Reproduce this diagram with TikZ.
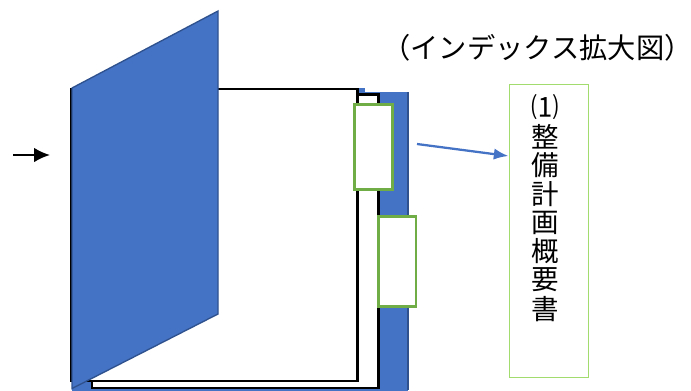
\documentclass[tikz,border=0pt]{standalone}
\usepackage{fontspec}
\newfontfamily\jpfont{Noto Sans CJK JP}
\definecolor{coverblue}{HTML}{4472C4}
\definecolor{coveredge}{HTML}{2F528F}
\definecolor{tabgreen}{HTML}{70AD47}
\definecolor{labelgreen}{HTML}{A2DC6E}
\usetikzlibrary{arrows.meta}
\tikzset{
  px/.style={x=0.75pt,y=-0.75pt},
  sheet/.style={draw=black,fill=white,line width=1.8pt,line join=miter},
  backing/.style={fill=coverblue,draw=none},
  cover/.style={fill=coverblue,draw=coveredge,line width=1pt,line join=miter},
  tabbox/.style={draw=tabgreen,fill=white,line width=2.2pt,inner sep=0pt,anchor=north west},
  labelbox/.style={draw=labelgreen,fill=white,line width=1.1pt,inner sep=0pt,anchor=north west},
  vchar/.style={font=\jpfont\fontsize{20.6pt}{21pt}\selectfont,inner sep=0pt,text=black},
  title/.style={font=\jpfont\fontsize{21.2pt}{23pt}\selectfont,inner sep=0pt,text=black},
  blueline/.style={draw=coverblue,line width=1.7pt,-{Latex[length=11pt,width=8.5pt]}},
  blackline/.style={draw=black,line width=1.6pt,-{Latex[length=12pt,width=11pt]}}
}
\begin{document}
\begin{tikzpicture}[px]
\useasboundingbox (0,0) rectangle (691,390);
% blue backing board
\path[backing] (72,92) rectangle (408,392);
\draw[coveredge,line width=1pt] (408,92) -- (408,390);
\path[backing] (358,88) rectangle (365,93);
% sheets
\path[sheet] (92,94.5) rectangle (378.5,388);
\path[sheet] (71,89) rectangle (357.5,381);
% tabs
\node[tabbox,minimum width=37.5*0.75pt,minimum height=85.5*0.75pt] (tabA) at (353.3,102.7) {};
\node[tabbox,minimum width=37.5*0.75pt,minimum height=90*0.75pt] (tabB) at (377,215) {};
% cover
\draw[cover] (72,88) -- (218,11) -- (218,314) -- (72,388.5) -- cycle;
% label box
\node[labelbox,minimum width=79.5*0.75pt,minimum height=293.5*0.75pt] (lab) at (508.5,83.5) {};
\node[vchar] (c1) at (545,107) {⑴};
\node[vchar] (c2) at (545,137) {整};
\node[vchar] (c3) at (545,165.5) {備};
\node[vchar] (c4) at (545,194) {計};
\node[vchar] (c5) at (545,222.5) {画};
\node[vchar] (c6) at (545,251) {概};
\node[vchar] (c7) at (545,280) {要};
\node[vchar] (c8) at (545,309) {書};
% title
\node[title] (ttl) at (537.5,47.5) {（インデックス拡大図）};
% arrows
\coordinate (arrowA) at (417,144);
\coordinate (arrowAend) at (508,156);
\draw[blueline] (arrowA) -- (lab.west |- arrowAend);
\coordinate (arrowB) at (13,155);
\coordinate (arrowBend) at (50,155);
\draw[blackline] (arrowB) -- (arrowBend);
\end{tikzpicture}
\end{document}
